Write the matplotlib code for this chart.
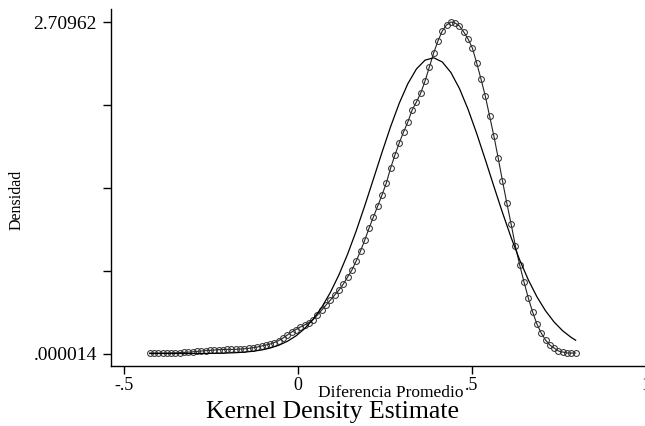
import numpy as np
import matplotlib
matplotlib.use("Agg")
import matplotlib.pyplot as plt

# rejilla de evaluacion (puntos equiespaciados, como kdensity)
x_start = -0.425
x_end = 0.798
n_points = 100

# densidad kernel (circulos)
kde_y = [
    0.0041, 0.0041, 0.0041, 0.0041, 0.0041, 0.0049, 0.0057, 0.0074, 0.0090, 0.0114,
    0.0139, 0.0172, 0.0204, 0.0237, 0.0261, 0.0286, 0.0311, 0.0327, 0.0335, 0.0335,
    0.0343, 0.0360, 0.0384, 0.0425, 0.0466, 0.0531, 0.0613, 0.0695, 0.0777, 0.0899,
    0.1063, 0.1267, 0.1512, 0.1757, 0.1962, 0.2166, 0.2330, 0.2534, 0.2779, 0.3147,
    0.3556, 0.3964, 0.4373, 0.4782, 0.5190, 0.5681, 0.6253, 0.6825, 0.7561, 0.8378,
    0.9277, 1.0258, 1.1158, 1.2057, 1.2956, 1.3937, 1.5163, 1.6225, 1.7206, 1.8105,
    1.8923, 1.9903, 2.0558, 2.1293, 2.2274, 2.3419, 2.4563, 2.5543, 2.6361, 2.6851,
    2.70962, 2.7014, 2.6769, 2.6279, 2.5707, 2.4971, 2.3745, 2.2437, 2.1048, 1.9413,
    1.7778, 1.5980, 1.4100, 1.2302, 1.0585, 0.8787, 0.7234, 0.5844, 0.4536, 0.3392,
    0.2411, 0.1676, 0.1103, 0.0695, 0.0450, 0.0204, 0.0123, 0.0041, 0.0041, 0.0041,
]

# densidad normal (linea), leida cada dos puntos de la rejilla
normal_y = [
    0.000014, 0.000028, 0.000056, 0.00011, 0.00021, 0.0004, 0.00074, 0.00134, 0.00236, 0.00409,
    0.0069, 0.0114, 0.0184, 0.0289, 0.0447, 0.0675, 0.0997, 0.1439, 0.2031, 0.2803,
    0.3785, 0.4996, 0.6439, 0.8122, 1.0020, 1.2088, 1.4259, 1.6445, 1.8546, 2.0452,
    2.2052, 2.3258, 2.3979, 2.4175, 2.3832, 2.2974, 2.1656, 1.9961, 1.7987, 1.5855,
    1.3662, 1.1514, 0.9488, 0.7643, 0.6023, 0.4635, 0.3492, 0.2573, 0.1853, 0.1305,
    0.1088,
]

y_min = 0.000014
y_max = 2.70962
x_ticks = [-0.5, 0, 0.5, 1]
x_tick_labels = ["-.5", "0", ".5", "1"]

kde_x = np.linspace(x_start, x_end, n_points)
normal_x = np.append(kde_x[::2], kde_x[-1])

plt.rcParams['font.family'] = ['Liberation Serif', 'DejaVu Serif']

fig = plt.figure(figsize=(6.45, 4.26), dpi=100)
ax = fig.add_axes([111 / 645, 60 / 426, 535 / 645, 357 / 426])

ax.plot(kde_x, kde_y, color='#222222', linewidth=0.8,
        marker='o', markersize=4.2, markerfacecolor='none',
        markeredgecolor='#333333', markeredgewidth=0.75)
ax.plot(normal_x, normal_y, color='black', linewidth=0.9)

ax.set_xlim(-0.536, 1.0)
ax.set_ylim(-0.102, 2.816)

for side in ['top', 'right']:
    ax.spines[side].set_visible(False)
for side in ['left', 'bottom']:
    ax.spines[side].set_linewidth(1.0)
    ax.spines[side].set_color('black')

y_ticks = np.linspace(y_min, y_max, 5)
ax.set_yticks(y_ticks)
ax.set_yticklabels([".000014", "", "", "", "2.70962"])
ax.set_xticks(x_ticks)
ax.set_xticklabels(x_tick_labels)
ax.tick_params(axis='both', direction='out', length=6, width=1.0,
               labelsize=13, colors='black')
ax.tick_params(axis='y', labelsize=14, pad=4)
ax.tick_params(axis='x', pad=2)

fig.text(391 / 645, 1 - 393 / 426, "Diferencia Promedio", ha='center', va='center', fontsize=12.5)
fig.text(333 / 645, 1 - 412 / 426, "Kernel Density Estimate", ha='center', va='center', fontsize=18.5)
fig.text(17 / 645, 1 - 200 / 426, "Densidad", ha='center', va='center', rotation=90, fontsize=11.5)

fig.savefig("out.png", dpi=100)
